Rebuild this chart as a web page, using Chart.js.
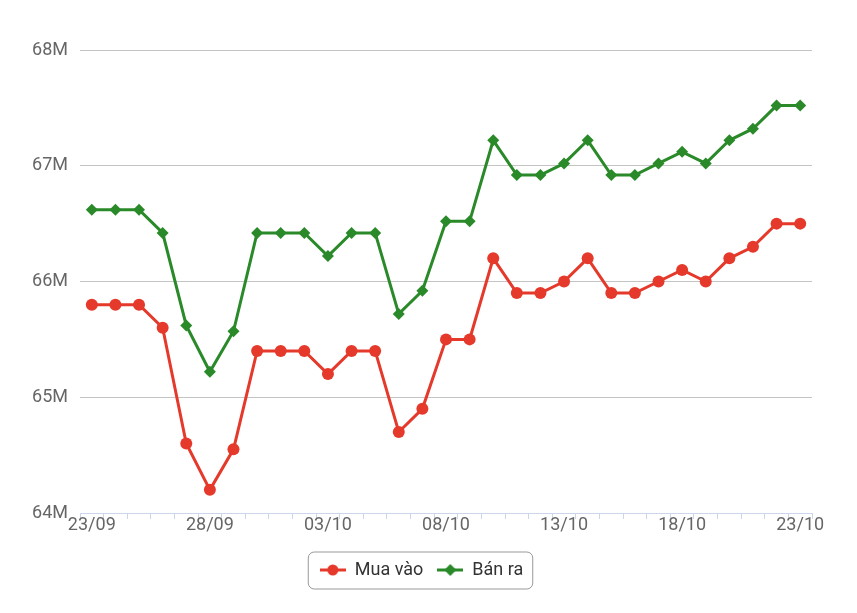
<!DOCTYPE html>
<html>
<head>
<meta charset="utf-8">
<script src="https://cdn.jsdelivr.net/npm/chart.js@4/dist/chart.umd.min.js"></script>
<style>
  html, body { margin: 0; padding: 0; background: #fff; }
  #wrap { width: 857px; height: 613px; }
</style>
</head>
<body>
<div id="wrap"><canvas id="chart"></canvas></div>
<script>
const labels = [
  "23/09", "24/09", "25/09", "26/09", "27/09", "28/09", "29/09", "30/09",
  "01/10", "02/10", "03/10", "04/10", "05/10", "06/10", "07/10", "08/10",
  "09/10", "10/10", "11/10", "12/10", "13/10", "14/10", "15/10", "16/10",
  "17/10", "18/10", "19/10", "20/10", "21/10", "22/10", "23/10"
];

// giá mua vào (VND)
const muaVao = [
  65800000, 65800000, 65800000, 65600000, 64600000, 64200000, 64550000, 65400000,
  65400000, 65400000, 65200000, 65400000, 65400000, 64700000, 64900000, 65500000,
  65500000, 66200000, 65900000, 65900000, 66000000, 66200000, 65900000, 65900000,
  66000000, 66100000, 66000000, 66200000, 66300000, 66500000, 66500000
];

// giá bán ra (VND)
const banRa = [
  66620000, 66620000, 66620000, 66420000, 65620000, 65220000, 65570000, 66420000,
  66420000, 66420000, 66220000, 66420000, 66420000, 65720000, 65920000, 66520000,
  66520000, 67220000, 66920000, 66920000, 67020000, 67220000, 66920000, 66920000,
  67020000, 67120000, 67020000, 67220000, 67320000, 67520000, 67520000
];

const yTicks = [64000000, 65000000, 66000000, 67000000, 68000000];

const RED = "#e5392b";
const GREEN = "#2a8a2a";

// small icon: line + marker, used in the legend
function legendIcon(color, shape) {
  const c = document.createElement("canvas");
  c.width = 26;
  c.height = 14;
  const ctx = c.getContext("2d");
  ctx.strokeStyle = color;
  ctx.fillStyle = color;
  ctx.lineWidth = 3;
  ctx.beginPath();
  ctx.moveTo(0, 7);
  ctx.lineTo(26, 7);
  ctx.stroke();
  ctx.beginPath();
  if (shape === "circle") {
    ctx.arc(13, 7, 5.5, 0, Math.PI * 2);
  } else {
    ctx.moveTo(13, 1);
    ctx.lineTo(19, 7);
    ctx.lineTo(13, 13);
    ctx.lineTo(7, 7);
    ctx.closePath();
  }
  ctx.fill();
  return c;
}

const icons = [legendIcon(RED, "circle"), legendIcon(GREEN, "diamond")];

// rounded frame around the legend
const legendFrame = {
  id: "legendFrame",
  afterDraw(chart) {
    const lg = chart.legend;
    if (!lg || !lg.legendHitBoxes.length) return;
    const boxes = lg.legendHitBoxes;
    const first = boxes[0];
    const last = boxes[boxes.length - 1];
    const cy = first.top + first.height / 2;
    const x = first.left - 12;
    const w = last.left + last.width + 9 - x;
    const y = cy - 18.5;
    const h = 37;
    const ctx = chart.ctx;
    ctx.save();
    ctx.strokeStyle = "#999999";
    ctx.lineWidth = 1;
    ctx.beginPath();
    ctx.roundRect(x + 0.5, y + 0.5, w, h, 6);
    ctx.stroke();
    ctx.restore();
  }
};

new Chart(document.getElementById("chart"), {
  type: "line",
  data: {
    labels: labels,
    datasets: [
      {
        label: "Mua vào",
        data: muaVao,
        borderColor: RED,
        backgroundColor: RED,
        borderWidth: 3,
        pointStyle: "circle",
        pointRadius: 6,
        pointHoverRadius: 6,
        pointBorderWidth: 0,
        tension: 0
      },
      {
        label: "Bán ra",
        data: banRa,
        borderColor: GREEN,
        backgroundColor: GREEN,
        borderWidth: 3,
        pointStyle: "rectRot",
        pointRadius: 6,
        pointHoverRadius: 6,
        pointBorderWidth: 0,
        tension: 0
      }
    ]
  },
  options: {
    responsive: true,
    maintainAspectRatio: false,
    animation: false,
    layout: { padding: { top: 50, right: 45, bottom: 24, left: 31 } },
    plugins: {
      tooltip: { enabled: false },
      legend: {
        position: "bottom",
        labels: {
          usePointStyle: true,
          pointStyleWidth: 26,
          padding: 14,
          color: "#333333",
          font: { family: "Roboto", size: 18 },
          generateLabels(chart) {
            return chart.data.datasets.map((ds, i) => ({
              text: ds.label,
              fillStyle: ds.backgroundColor,
              strokeStyle: ds.borderColor,
              lineWidth: 0,
              pointStyle: icons[i],
              fontColor: "#333333",
              datasetIndex: i,
              hidden: false
            }));
          }
        }
      }
    },
    scales: {
      x: {
        offset: true,
        border: { display: true, color: "#ccd6eb", width: 1 },
        grid: {
          offset: true,
          drawOnChartArea: false,
          drawTicks: true,
          tickLength: 6,
          color: "#ccd6eb"
        },
        ticks: {
          autoSkip: false,
          maxRotation: 0,
          padding: -4,
          color: "#666666",
          font: { family: "Roboto", size: 18 },
          callback: function (v, i) {
            return i % 5 === 0 ? labels[i] : "";
          }
        },
        afterFit(scale) { scale.height = 34; }
      },
      y: {
        min: 64000000,
        max: 68000000,
        border: { display: false },
        grid: { color: "#c4c4c4", drawTicks: false },
        afterBuildTicks(scale) {
          scale.ticks = yTicks.map(v => ({ value: v }));
        },
        ticks: {
          padding: 12,
          color: "#666666",
          font: { family: "Roboto", size: 18 },
          callback: v => (v / 1000000) + "M"
        },
        afterFit(scale) { scale.width = 49; }
      }
    }
  },
  plugins: [legendFrame]
});
</script>
</body>
</html>
